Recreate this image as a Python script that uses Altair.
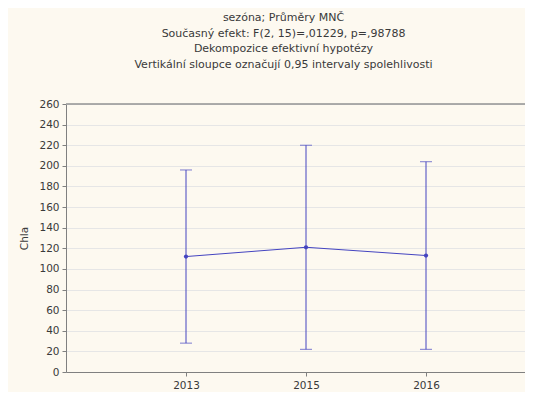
import altair as alt
import pandas as pd

years = ["2013", "2015", "2016"]
means = [112, 121, 113]
lower = [28, 22, 22]
upper = [196, 220, 204]

title_lines = [
    "sezóna; Průměry MNČ",
    "Současný efekt: F(2, 15)=,01229, p=,98788",
    "Dekompozice efektivní hypotézy",
    "Vertikální sloupce označují 0,95 intervaly spolehlivosti",
]

df = pd.DataFrame({
    "idx": list(range(len(years))),
    "year": years,
    "mean": means,
    "lo": lower,
    "hi": upper,
})

label_expr = "[" + ",".join("'" + y + "'" for y in years) + "][datum.value]"

COL = "#4444c0"
FONT = "DejaVu Sans"
TXT = "#3a3a3a"
FRAME = "#808080"

xscale = alt.Scale(domain=[-1, 2.825], nice=False, zero=False)
xaxis = alt.Axis(values=list(range(len(years))), labelExpr=label_expr, title=None,
                 grid=False, tickSize=4, labelPadding=4, labelFontSize=10.5,
                 labelColor=TXT, domainColor=FRAME, tickColor=FRAME,
                 labelOverlap=False, labelFlush=False)
yscale = alt.Scale(domain=[0, 260], nice=False)
yaxis = alt.Axis(values=list(range(0, 261, 20)), title="Chla", titleFontSize=10.5,
                 titleFontWeight="normal", titleColor=TXT, titlePadding=9,
                 labelFontSize=10.5, labelColor=TXT, tickSize=4, labelPadding=3,
                 labelOverlap=False, labelFlush=False,
                 gridColor="#e6e6e6", domainColor=FRAME, tickColor=FRAME)


def X():
    return alt.X("idx:Q", scale=xscale, axis=xaxis)


def Y(field):
    return alt.Y(field, scale=yscale, axis=yaxis, title="Chla")


base = alt.Chart(df)

top = base.mark_rule(color="#a0a0a0", strokeWidth=1).encode(
    y=alt.YDatum(260, scale=yscale, axis=yaxis, title="Chla"))
line = base.mark_line(color=COL, strokeWidth=1).encode(x=X(), y=Y("mean:Q"))
pts = base.mark_point(color=COL, filled=True, size=18, opacity=1).encode(x=X(), y=Y("mean:Q"))
rule = base.mark_rule(color=COL, strokeWidth=1).encode(x=X(), y=Y("lo:Q"), y2="hi:Q")
cap_lo = base.mark_tick(color=COL, orient="horizontal", size=12, thickness=1).encode(x=X(), y=Y("lo:Q"))
cap_hi = base.mark_tick(color=COL, orient="horizontal", size=12, thickness=1).encode(x=X(), y=Y("hi:Q"))

chart = alt.layer(line, top, rule, cap_lo, cap_hi, pts).properties(
    width=459, height=268,
    autosize=alt.AutoSizeParams(type="none"),
    padding={"left": 58, "top": 96, "right": 0, "bottom": 20},
    title=alt.TitleParams(text=title_lines, fontSize=11, fontWeight="normal", color=TXT,
                          font=FONT, lineHeight=15.7, offset=29, anchor="middle", dx=-12),
    background="#fdf9f0",
).configure_view(fill="white", stroke="transparent").configure(font=FONT).configure_axis(labelFont=FONT, titleFont=FONT)

chart.save("out.html", embed_options={"renderer": "svg", "actions": False})
